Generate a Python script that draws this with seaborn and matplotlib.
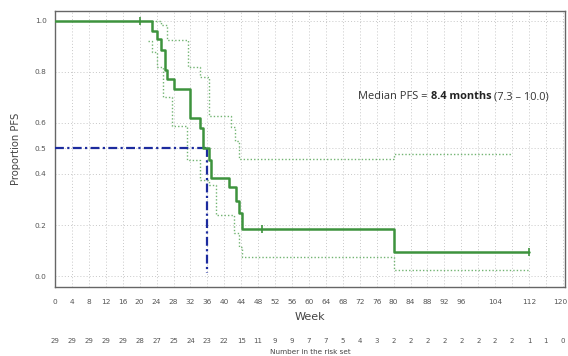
import matplotlib
matplotlib.use("Agg")
import matplotlib.pyplot as plt
import matplotlib.transforms as mtransforms
import seaborn as sns
import pandas as pd

# ---- data ----
km_weeks = [0, 23, 24, 25, 26, 26.5, 28, 32, 34.3, 35, 36.3, 36.8, 41.2, 42.7, 43.5, 44.1, 80, 112]
km_surv = [1.0, 0.962, 0.931, 0.886, 0.808, 0.771, 0.732, 0.618, 0.579, 0.50, 0.455, 0.385,
           0.348, 0.294, 0.246, 0.186, 0.095, 0.095]

upper_weeks = [23, 25, 26.4, 31.5, 34.3, 36.3, 41.5, 42.5, 43.5, 80, 108]
upper_ci = [1.0, 0.985, 0.925, 0.82, 0.78, 0.627, 0.585, 0.53, 0.458, 0.48, 0.48]

lower_weeks = [22, 23, 24, 25.5, 27.6, 31.2, 34.3, 36.5, 38, 42.3, 43.5, 44.3, 80, 112]
lower_ci = [0.92, 0.88, 0.82, 0.70, 0.59, 0.455, 0.376, 0.357, 0.24, 0.17, 0.115, 0.075, 0.024, 0.024]

censor_weeks = [20, 49, 112]
censor_surv = [1.0, 0.186, 0.095]

median_week = 36.0
median_level = 0.5

tick_weeks = list(range(0, 121, 4))
tick_labels = [str(w) if w not in (100, 108, 116) else "" for w in tick_weeks]
at_risk = [29, 29, 29, 29, 29, 28, 27, 25, 24, 23, 22, 15, 11, 9, 9, 7, 7, 5, 4, 3,
           2, 2, 2, 2, 2, 2, 2, 2, 1, 1, 0]
y_ticks = [0.0, 0.2, 0.4, 0.5, 0.6, 0.8, 1.0]

# ---- styling ----
sns.set_theme(style="white")
plt.rcParams['font.family'] = ['DejaVu Sans']

GREEN = "#3d933d"
LGREEN = "#72b472"
BLUE = "#1c2b9e"
GREY = "#555555"

fig = plt.figure(figsize=(5.68, 3.56), dpi=100)
ax = fig.add_axes([55/568, 1 - 287/356, 510/568, 276/356])

# grid
for w in tick_weeks:
    ax.axvline(w, color="#c8c8c8", lw=0.7, ls=(0, (1, 2.2)), zorder=0)
for yv in y_ticks:
    ax.axhline(yv, color="#c8c8c8", lw=0.7, ls=(0, (1, 2.2)), zorder=0)

km_df = pd.DataFrame({"week": km_weeks, "surv": km_surv})
up_df = pd.DataFrame({"week": upper_weeks, "ci": upper_ci})
lo_df = pd.DataFrame({"week": lower_weeks, "ci": lower_ci})
cen_df = pd.DataFrame({"week": censor_weeks, "surv": censor_surv})

sns.lineplot(data=up_df, x="week", y="ci", ax=ax, color=LGREEN, lw=1.0,
             linestyle=(0, (1, 1.5)), drawstyle="steps-post", zorder=2)
sns.lineplot(data=lo_df, x="week", y="ci", ax=ax, color=LGREEN, lw=1.0,
             linestyle=(0, (1, 1.5)), drawstyle="steps-post", zorder=2)

# median reference lines
med_df_h = pd.DataFrame({"week": [0, median_week], "v": [median_level, median_level]})
med_df_v = pd.DataFrame({"week": [median_week, median_week], "v": [median_level, 0.01]})
sns.lineplot(data=med_df_h, x="week", y="v", ax=ax, color=BLUE, lw=1.6,
             linestyle=(0, (4, 1.5, 1, 1.5)), zorder=3)
ax.plot(med_df_v["week"], med_df_v["v"], color=BLUE, lw=1.6,
        linestyle=(0, (4, 1.5, 1, 1.5)), zorder=3)

sns.lineplot(data=km_df, x="week", y="surv", ax=ax, color=GREEN, lw=1.8,
             drawstyle="steps-post", zorder=4)
sns.scatterplot(data=cen_df, x="week", y="surv", ax=ax, marker="|", s=40,
                color=GREEN, linewidth=1.2, zorder=5)

ax.set_xlim(0, 120.5)
ax.set_ylim(-0.043, 1.039)
ax.set_xticks(tick_weeks)
ax.set_xticklabels(tick_labels)
ax.set_yticks(y_ticks)
ax.set_yticklabels([f"{v:.1f}" for v in y_ticks])
ax.tick_params(axis="x", direction="inout", length=6, width=0.9, colors=GREY,
               labelsize=5.3, pad=6)
ax.tick_params(axis="y", direction="out", length=4, width=0.9, colors=GREY,
               labelsize=5.3, pad=2)
for lab in ax.get_xticklabels() + ax.get_yticklabels():
    lab.set_color("#555555")
# nudge the last x label so it stays inside the picture
last = ax.get_xticklabels()[-1]
last.set_transform(last.get_transform() +
                   mtransforms.ScaledTranslation(-3 / 100, 0, fig.dpi_scale_trans))
for sp in ax.spines.values():
    sp.set_color("#666666")
    sp.set_linewidth(1.0)
    sp.set_visible(True)

ax.set_xlabel("Week", fontsize=8, color="#444444", labelpad=5)
ax.set_ylabel("Proportion PFS", fontsize=7.2, color="#444444", labelpad=10)

# number at risk
trans = mtransforms.blended_transform_factory(ax.transData, fig.transFigure)
for w, n in zip(tick_weeks, at_risk):
    ax.text(w, 1 - 341/356, str(n), transform=trans, ha="center", va="center",
            fontsize=5.0, color="#555555", clip_on=False)
fig.text((55 + 565) / 2 / 568, 1 - 352/356, "Number in the risk set", ha="center",
         va="center", fontsize=5.2, color="#444444")

# median annotation
tfont = ["Open Sans", "DejaVu Sans"]
t1 = ax.text(0.595, 0.68, "Median PFS = ", transform=ax.transAxes, fontsize=7.9,
             color="#333333", family=tfont, ha="left", va="baseline")
t2 = ax.annotate("8.4 months", xy=(1, 0), xycoords=t1, fontsize=7.9,
                 color="#222222", family=tfont, weight="bold", ha="left", va="bottom")
t3 = ax.annotate(" (7.3 \u2013 10.0)", xy=(1, 0), xycoords=t2, fontsize=7.9,
                 color="#333333", family=tfont, ha="left", va="bottom")

fig.savefig("out.png", dpi=100, facecolor="white")
